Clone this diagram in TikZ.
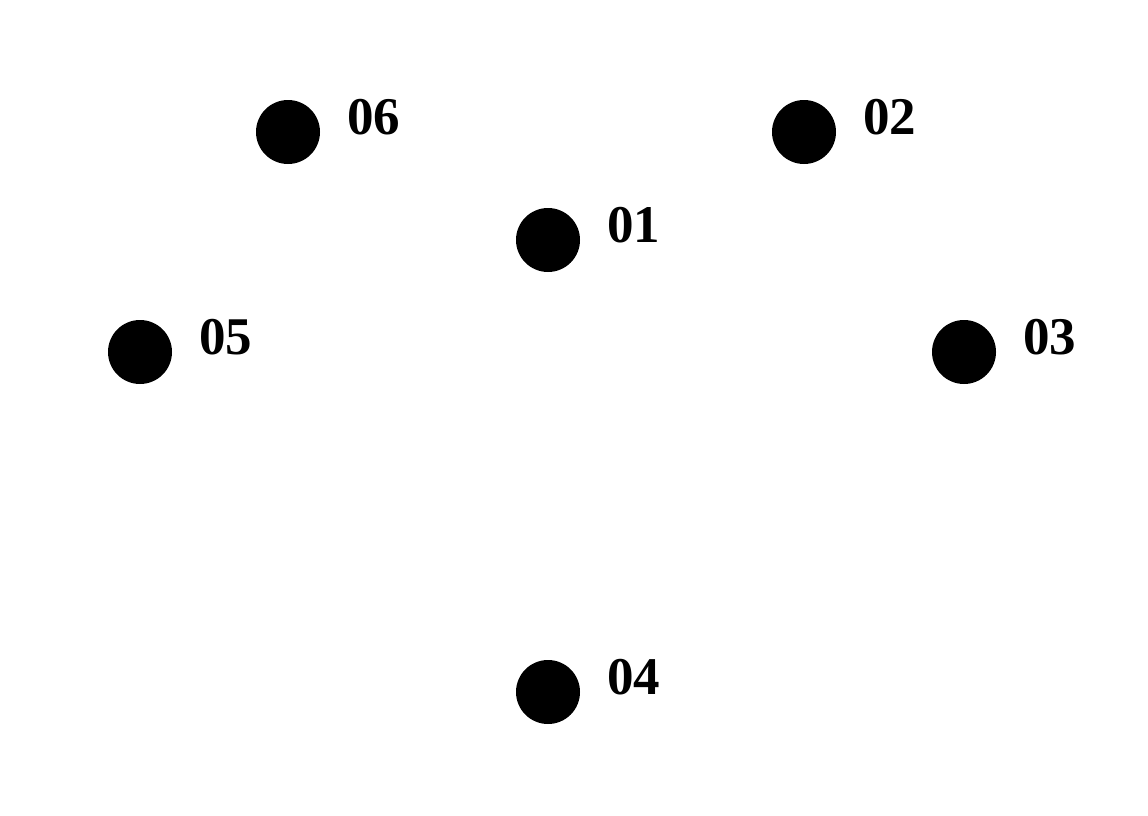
\documentclass[tikz,border=0pt]{standalone}
\usepackage{fontspec}
\setmainfont{Liberation Serif}
\begin{document}
\begin{tikzpicture}[x=1pt,y=-1pt,
  dot/.style={circle,fill=black,minimum size=64pt,inner sep=0pt},
  lbl/.style={anchor=base west,inner sep=0pt,font=\fontsize{53}{58}\selectfont\bfseries}]
\useasboundingbox (0,0) rectangle (1148,816);
\node[dot] (n06) at (288,132) {};
\node[dot] (n02) at (804,132) {};
\node[dot] (n01) at (548,240) {};
\node[dot] (n05) at (140,352) {};
\node[dot] (n03) at (964,352) {};
\node[dot] (n04) at (548,692) {};
\node[lbl] (l06) at (347,134) {06};
\node[lbl] (l02) at (863,134) {02};
\node[lbl] (l01) at (607,242) {01};
\node[lbl] (l05) at (199,354) {05};
\node[lbl] (l03) at (1023,354) {03};
\node[lbl] (l04) at (607,694) {04};
\end{tikzpicture}
\end{document}
